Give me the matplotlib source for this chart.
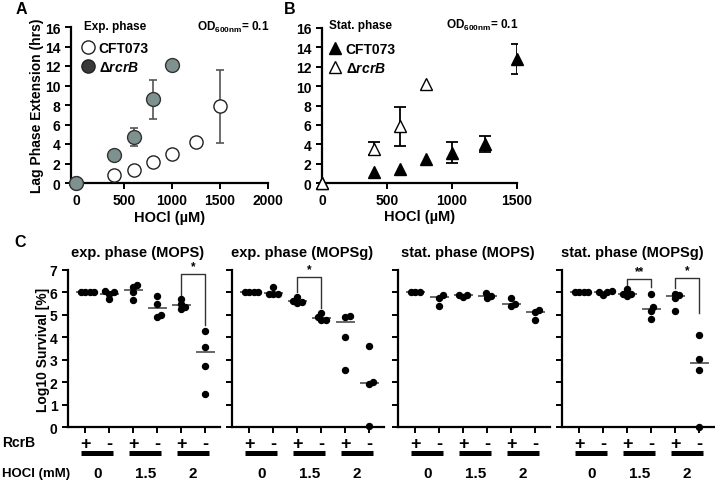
import numpy as np
import matplotlib
matplotlib.use("Agg")
import matplotlib.pyplot as plt
from matplotlib.lines import Line2D

plt.rcParams['font.family'] = ['Liberation Sans', 'DejaVu Sans']
plt.rcParams['font.weight'] = 'bold'
plt.rcParams['axes.labelweight'] = 'bold'
plt.rcParams['mathtext.fontset'] = 'custom'
plt.rcParams['mathtext.rm'] = 'Liberation Sans:bold'
plt.rcParams['mathtext.it'] = 'Liberation Sans:italic:bold'
plt.rcParams['mathtext.bf'] = 'Liberation Sans:bold'

# ---- panel A: exponential phase lag extension (hrs) ----
hocl_a_wt = [0, 400, 600, 800, 1000, 1250, 1500]
lag_a_wt = [0, 0.78, 1.33, 2.12, 3.0, 4.2, 7.88]
err_a_wt = [0, 0, 0, 0, 0, 0, 3.73]
hocl_a_mut = [0, 400, 600, 800, 1000]
lag_a_mut = [0, 2.87, 4.71, 8.57, 12.15]
err_a_mut = [0, 0, 0.9, 2.0, 0]

# ---- panel B: stationary phase ----
hocl_b_wt = [0, 400, 600, 800, 1000, 1250, 1500]
lag_b_wt = [0, 1.13, 1.48, 2.5, 3.13, 4.0, 12.8]
err_b_wt = [0, 0, 0, 0, 1.1, 0.85, 1.5]
hocl_b_mut = [0, 400, 600, 800]
lag_b_mut = [0, 3.54, 5.84, 10.17]
err_b_mut = [0, 0.65, 2.0, 0]

# ---- panel C: log10 survival ----
titles = ['exp. phase (MOPS)', 'exp. phase (MOPSg)',
          'stat. phase (MOPS)', 'stat. phase (MOPSg)']
rcrb = ['+', '-', '+', '-', '+', '-']
hocl_mm = ['0', '1.5', '2']

surv_exp_mops = [[6, 6, 6, 6], [6.05, 5.7, 6.0, 5.95], [6.25, 6.0, 5.65, 6.35],
                 [5.86, 5.5, 4.9, 5.0], [5.26, 5.49, 5.36, 5.7], [4.3, 3.58, 2.7, 1.46]]
surv_exp_mopsg = [[6, 6, 6, 6], [6.22, 5.92, 5.92, 5.92], [5.8, 5.54, 5.57, 5.62],
                  [5.08, 4.79, 4.77, 4.91], [4.92, 4.97, 4.02, 2.53], [3.63, 2.0, 1.91, 0.05]]
surv_stat_mops = [[6, 6, 6], [5.87, 5.75, 5.39], [5.8, 5.89, 5.89],
                  [5.77, 5.96, 5.86], [5.39, 5.75, 5.47], [5.23, 5.11, 4.78]]
surv_stat_mopsg = [[6, 6, 6, 6], [5.9, 6.0, 6.0, 6.05], [6.17, 5.84, 5.95, 5.95],
                   [5.95, 5.35, 5.17, 4.82], [5.95, 5.74, 5.87, 5.17], [4.08, 3.03, 2.55, 0.02]]
surv = [surv_exp_mops, surv_exp_mopsg, surv_stat_mops, surv_stat_mopsg]

centre_exp_mops = [6.0, 5.93, 6.1, 5.32, 5.43, 3.34]
centre_exp_mopsg = [6.0, 5.97, 5.62, 4.88, 4.68, 1.94]
centre_stat_mops = [6.0, 5.8, 5.87, 5.86, 5.47, 5.14]
centre_stat_mopsg = [6.0, 6.0, 5.95, 5.27, 5.83, 2.85]
centres = [centre_exp_mops, centre_exp_mopsg, centre_stat_mops, centre_stat_mopsg]

# significance brackets: panel, left group, right group, left foot, top, right foot, label
brackets = [(0, 4, 5, 5.9, 6.82, 4.57, '*'),
            (1, 2, 3, 6.0, 6.7, 5.32, '*'),
            (3, 2, 3, 6.2, 6.6, 6.25, '**'),
            (3, 4, 5, 6.2, 6.65, 5.1, '*')]

W, H = 715, 481


def rect(l, t, r, b):
    return [l / W, 1 - b / H, (r - l) / W, (b - t) / H]


def swarm(vals, step=4.3, xpx=24.0, ypx=22.4):
    vals = np.asarray(vals, float)
    offs = np.zeros(len(vals))
    placed = []
    cands = sorted(np.arange(-30, 30.01, 0.5), key=lambda c: (abs(c), -c))
    for i in np.argsort(vals, kind='stable'):
        for c in cands:
            ok = all((c - ox) ** 2 + ((vals[i] - oy) * ypx) ** 2 >= step ** 2 for ox, oy in placed)
            if ok:
                break
        placed.append((c, vals[i]))
        offs[i] = c / xpx
    return offs


def style(ax):
    for s in ['top', 'right']:
        ax.spines[s].set_visible(False)
    for s in ['left', 'bottom']:
        ax.spines[s].set_linewidth(1.6)
    ax.tick_params(width=1.4, length=4, direction='out')


fig = plt.figure(figsize=(W / 100, H / 100), dpi=100)

# ---------- A ----------
ax = fig.add_axes(rect(71, 28, 268, 184))
style(ax)
e = np.array(err_a_wt) > 0
ax.errorbar(np.array(hocl_a_wt)[e], np.array(lag_a_wt)[e], yerr=np.array(err_a_wt)[e],
            fmt='none', ecolor='#555555', elinewidth=1.2, capsize=3, capthick=1.2, zorder=1)
e = np.array(err_a_mut) > 0
ax.errorbar(np.array(hocl_a_mut)[e], np.array(lag_a_mut)[e], yerr=np.array(err_a_mut)[e],
            fmt='none', ecolor='#555555', elinewidth=1.2, capsize=3, capthick=1.2, zorder=1)
ax.plot(hocl_a_wt, lag_a_wt, 'o', ms=9.5, mfc='white', mec='#222222', mew=1.0,
        clip_on=False, zorder=3)
ax.plot(hocl_a_mut, lag_a_mut, 'o', ms=10, mfc='#7d918e', mec='#333333', mew=1.0,
        clip_on=False, zorder=4)
ax.set_xlim(-52, 2000)
ax.set_ylim(0, 16)
ax.set_xticks([0, 500, 1000, 1500, 2000])
ax.set_yticks(range(0, 17, 2))
ax.tick_params(labelsize=10)
ax.set_xlabel('HOCl (µM)', fontsize=10.5)
ax.set_ylabel('Lag Phase Extension (hrs)', fontsize=10)
ax.xaxis.set_label_coords(0.5, -0.17)
ax.yaxis.set_label_coords(-0.135, 0.5)
ax.text(0.066, 1.006, 'Exp. phase', transform=ax.transAxes, fontsize=8.5, va='center')
ax.text(1.005, 1.006, r'OD$_{\mathrm{600nm}}$= 0.1', transform=ax.transAxes,
        fontsize=8.5, va='center', ha='right')
hd = [Line2D([], [], ls='none', marker='o', ms=9.5, mfc='white', mec='#222222'),
      Line2D([], [], ls='none', marker='o', ms=9.5, mfc='#3a3a3a', mec='#222222')]
ax.legend(hd, ['CFT073', r'$\Delta\mathit{rcrB}$'], loc='upper left',
          bbox_to_anchor=(0.06, 0.91), frameon=False, fontsize=10, handlelength=0.8,
          handletextpad=0.35, labelspacing=0.35, borderpad=0, borderaxespad=0)

# ---------- B ----------
ax = fig.add_axes(rect(322, 29, 517, 184))
style(ax)
e = np.array(err_b_wt) > 0
ax.errorbar(np.array(hocl_b_wt)[e], np.array(lag_b_wt)[e], yerr=np.array(err_b_wt)[e],
            fmt='none', ecolor='black', elinewidth=1.3, capsize=4, capthick=1.3, zorder=1)
e = np.array(err_b_mut) > 0
ax.errorbar(np.array(hocl_b_mut)[e], np.array(lag_b_mut)[e], yerr=np.array(err_b_mut)[e],
            fmt='none', ecolor='black', elinewidth=1.3, capsize=4, capthick=1.3, zorder=1)
ax.plot(hocl_b_wt, lag_b_wt, '^', ms=8.5, mfc='black', mec='black', clip_on=False, zorder=3)
ax.plot(hocl_b_mut, lag_b_mut, '^', ms=8.5, mfc='white', mec='black', mew=1.0,
        clip_on=False, zorder=4)
ax.set_xlim(0, 1500)
ax.set_ylim(0, 16)
ax.set_xticks([0, 500, 1000, 1500])
ax.set_yticks(range(0, 17, 2))
ax.tick_params(labelsize=10)
ax.set_xlabel('HOCl (µM)', fontsize=10.5)
ax.xaxis.set_label_coords(0.5, -0.17)
ax.text(0.035, 1.02, 'Stat. phase', transform=ax.transAxes, fontsize=8.5, va='center')
ax.text(1.005, 1.02, r'OD$_{\mathrm{600nm}}$= 0.1', transform=ax.transAxes,
        fontsize=8.5, va='center', ha='right')
hd = [Line2D([], [], ls='none', marker='^', ms=8.5, mfc='black', mec='black'),
      Line2D([], [], ls='none', marker='^', ms=8.5, mfc='white', mec='black')]
ax.legend(hd, ['CFT073', r'$\Delta\mathit{rcrB}$'], loc='upper left',
          bbox_to_anchor=(0.04, 0.91), frameon=False, fontsize=10, handlelength=0.8,
          handletextpad=0.35, labelspacing=0.35, borderpad=0, borderaxespad=0)

# ---------- C ----------
lefts = [68, 232, 398, 562]
xs = np.arange(len(rcrb))
axes_c = []
for k, left in enumerate(lefts):
    ax = fig.add_axes(rect(left, 271, left + 152, 428))
    axes_c.append(ax)
    style(ax)
    for g, vals in enumerate(surv[k]):
        off = swarm(vals)
        ax.plot(g + off, vals, 'o', ms=4.3, color='black', clip_on=False, zorder=3)
        ax.plot([g - 0.35, g + 0.35], [centres[k][g]] * 2, color='#666666', lw=1.4, zorder=2)
    ax.set_xlim(-0.72, 5.62)
    ax.set_ylim(0, 7)
    ax.set_yticks(range(8))
    ax.set_xticks(xs)
    ax.set_xticklabels(rcrb, fontsize=13)
    ax.tick_params(axis='x', pad=2)
    ax.tick_params(axis='y', labelsize=10)
    if k > 0:
        ax.set_yticklabels([])
    ax.text(0.46, 1.115, titles[k], transform=ax.transAxes, fontsize=10.5,
            ha='center', va='center')
    tr = ax.get_xaxis_transform()
    for p, lab in enumerate(hocl_mm):
        x0 = 2 * p
        ax.plot([x0 - 0.17, x0 + 1.17], [-0.166, -0.166], color='black', lw=3.6,
                transform=tr, clip_on=False, solid_capstyle='butt')
        ax.text(x0 + 0.5, -0.29, lab, transform=tr, fontsize=11, ha='center', va='center')

axes_c[0].set_ylabel('Log10 Survival [%]', fontsize=10)
axes_c[0].yaxis.set_label_coords(-0.12, 0.5)

for k, gl, gr, yl, yt, yr, lab in brackets:
    ax = axes_c[k]
    ax.plot([gl, gl, gr, gr], [yl, yt, yt, yr], color='#333333', lw=1.0, zorder=1)
    ax.text((gl + gr) / 2, yt + 0.08, lab, fontsize=8.5, ha='center', va='bottom')

fig.text(2 / W, 1 - 443 / H, 'RcrB', fontsize=10, va='center')
fig.text(2 / W, 1 - 474 / H, 'HOCl (mM)', fontsize=9.5, va='center')
fig.text(21 / W, 1 - 9 / H, 'A', fontsize=11.5, ha='center', va='center')
fig.text(290 / W, 1 - 9 / H, 'B', fontsize=11.5, ha='center', va='center')
fig.text(20 / W, 1 - 243 / H, 'C', fontsize=11.5, ha='center', va='center')

fig.savefig('out.png', dpi=100)
